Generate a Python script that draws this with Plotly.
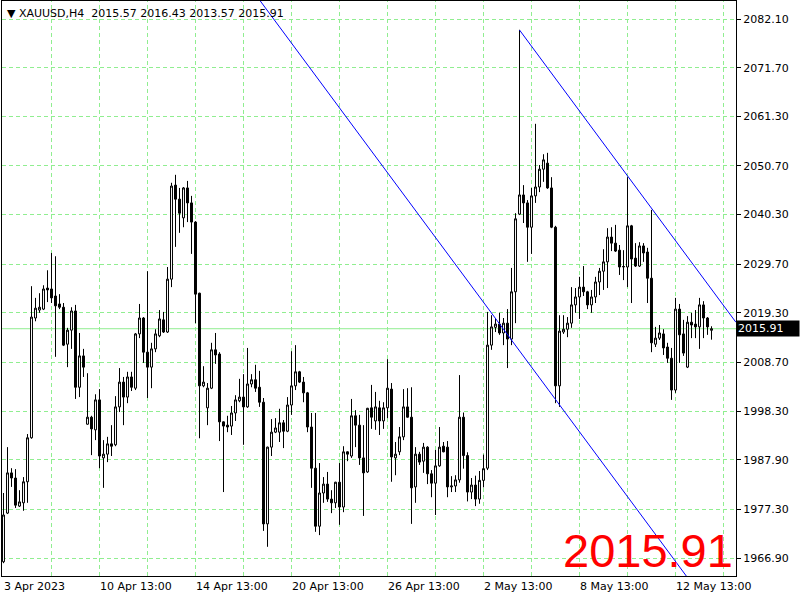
import plotly.graph_objects as go

# XAUUSD H4 candles, bar 0 = first visible bar
opens = [
    1966.1, 1976.5, 1985.1, 1984.0, 1978.0, 1978.7, 1983.2, 1992.6, 2018.2, 2019.9,
    2020.1, 2024.6, 2024.4, 2022.9, 2021.2, 2020.5, 2012.6, 2015.6, 2019.7, 2003.4,
    2010.1, 1995.5, 1997.0, 1994.3, 2000.7, 1988.3, 1989.1, 1991.3, 1991.1, 1999.2,
    2004.5, 2001.3, 2005.6, 2003.2, 2014.8, 2018.2, 2010.9, 2007.7, 2011.6, 2014.4,
    2017.8, 2015.2, 2026.5, 2046.6, 2043.6, 2039.6, 2046.0, 2042.8, 2038.7, 2023.5,
    2003.7, 1999.0, 2003.2, 2011.4, 2010.5, 1996.0, 1995.3, 1995.1, 1997.9, 2000.5,
    2001.3, 1999.2, 2004.1, 2005.0, 2003.4, 2000.2, 1974.2, 1990.6, 1993.8, 1993.8,
    1995.8, 1994.0, 1999.6, 2003.7, 2006.7, 2004.5, 2002.2, 1994.9, 1986.1, 1973.7,
    1980.8, 1982.7, 1979.5, 1978.7, 1983.1, 1977.8, 1989.6, 1988.7, 1997.3, 1995.3,
    1988.3, 1985.3, 1999.0, 1996.2, 1999.0, 1996.2, 1999.0, 2003.0, 1988.3, 1989.6,
    1992.8, 1999.2, 1997.0, 1982.1, 1989.1, 1987.6, 1990.6, 1984.9, 1982.9, 1986.6,
    1990.8, 1990.6, 1982.1, 1982.3, 1983.6, 1997.0, 1988.8, 1981.0, 1982.5, 1979.5,
    1983.5, 1986.1, 2012.4, 2016.2, 2016.9, 2015.0, 2017.1, 2013.7, 2023.8, 2040.4,
    2044.5, 2042.8, 2037.6, 2044.3, 2046.2, 2050.0, 2051.3, 2046.0, 2037.6, 2003.7,
    2015.2, 2015.8, 2017.1, 2021.0, 2022.7, 2024.8, 2023.8, 2021.0, 2022.7, 2025.9,
    2028.2, 2030.2, 2035.5, 2034.2, 2032.7, 2029.1, 2029.1, 2037.9, 2031.0, 2029.3,
    2033.6, 2032.3, 2026.7, 2012.6, 2013.9, 2014.8, 2012.0, 2009.6, 2002.8, 2020.1,
    2014.8, 2007.7, 2017.3, 2016.9, 2016.3, 2021.0, 2018.2, 2015.57,
]
highs = [
    1980.8, 1990.6, 1986.1, 1985.9, 1981.4, 1984.2, 1993.4, 2025.0, 2022.5, 2023.5,
    2025.2, 2028.4, 2032.1, 2031.4, 2023.3, 2021.4, 2016.1, 2020.5, 2021.0, 2015.0,
    2011.6, 2006.4, 1997.3, 2001.9, 2003.0, 1992.1, 1992.8, 1995.3, 2001.5, 2007.5,
    2005.6, 2006.7, 2006.7, 2015.0, 2021.2, 2018.4, 2028.2, 2012.9, 2015.8, 2019.9,
    2019.5, 2029.1, 2047.1, 2048.8, 2046.0, 2046.2, 2047.5, 2044.3, 2038.9, 2023.6,
    2007.9, 2004.3, 2012.9, 2015.0, 2010.9, 1996.1, 1997.3, 1999.4, 2001.7, 2005.2,
    2006.2, 2011.8, 2006.2, 2008.2, 2006.9, 2001.1, 1990.7, 1996.6, 1996.8, 1998.8,
    1996.4, 2001.3, 2011.1, 2012.4, 2006.9, 2005.6, 2002.4, 1997.9, 1997.9, 1987.2,
    1984.2, 1985.3, 1981.4, 1983.2, 1987.2, 1990.8, 1989.7, 2000.9, 1998.5, 1997.5,
    1995.3, 1999.0, 2003.9, 2002.4, 2000.5, 2000.2, 2009.4, 2004.3, 1991.7, 1994.9,
    2003.0, 2003.2, 2003.4, 1990.6, 1989.6, 1991.5, 1990.8, 1985.7, 1990.0, 1994.9,
    1991.7, 1991.9, 1984.4, 1984.6, 2006.0, 1998.0, 1989.5, 1984.0, 1984.5, 1985.5,
    1989.0, 2019.5, 2018.8, 2018.2, 2019.3, 2018.2, 2020.1, 2028.9, 2040.6, 2079.8,
    2046.6, 2043.4, 2046.0, 2059.7, 2050.9, 2053.2, 2053.5, 2048.3, 2037.9, 2018.8,
    2018.8, 2018.4, 2024.8, 2024.6, 2027.0, 2029.3, 2024.0, 2024.2, 2027.0, 2028.9,
    2032.9, 2037.4, 2037.6, 2038.1, 2033.8, 2032.7, 2048.3, 2038.1, 2034.2, 2034.4,
    2034.2, 2033.2, 2041.3, 2016.3, 2016.7, 2015.8, 2012.9, 2011.8, 2022.5, 2021.2,
    2017.8, 2018.6, 2019.3, 2019.9, 2022.5, 2021.8, 2018.4, 2016.43,
]
lows = [
    1965.8, 1976.3, 1982.1, 1977.6, 1977.8, 1977.0, 1978.7, 1992.4, 2017.5, 2019.3,
    2019.9, 2021.6, 2021.4, 2009.9, 2020.1, 2012.2, 2007.7, 2011.6, 2000.9, 2001.3,
    2005.6, 1995.4, 1988.9, 1992.1, 1986.1, 1981.9, 1987.4, 1988.7, 1990.8, 1998.1,
    1995.3, 2000.0, 2002.6, 2002.8, 2013.9, 2008.6, 2001.1, 2003.2, 2010.9, 2014.1,
    2015.0, 2015.0, 2024.8, 2033.4, 2036.4, 2037.6, 2038.7, 2031.9, 2017.1, 1992.5,
    2003.4, 1995.3, 2003.0, 2008.4, 1991.9, 1981.0, 1993.8, 1993.2, 1996.2, 2000.2,
    1991.1, 1999.0, 2003.4, 2002.4, 1999.2, 1972.7, 1969.3, 1988.7, 1993.6, 1991.7,
    1990.4, 1993.8, 1997.5, 2002.8, 2004.3, 2000.2, 1993.8, 1981.9, 1972.5, 1971.8,
    1978.7, 1978.9, 1976.5, 1977.6, 1974.0, 1976.7, 1987.6, 1988.3, 1990.6, 1986.8,
    1975.9, 1985.1, 1994.5, 1994.3, 1993.2, 1994.5, 1996.8, 1983.2, 1984.6, 1988.9,
    1992.1, 1996.9, 1974.2, 1978.7, 1986.8, 1985.1, 1982.7, 1979.9, 1976.1, 1986.4,
    1989.5, 1979.9, 1981.0, 1981.0, 1983.0, 1986.0, 1979.0, 1979.5, 1978.0, 1978.5,
    1982.0, 1985.7, 2011.4, 2015.2, 2014.6, 2012.4, 2007.5, 2012.4, 2017.1, 2040.2,
    2038.5, 2030.2, 2031.9, 2042.8, 2045.1, 2047.3, 2045.8, 2037.4, 2000.0, 1999.2,
    2014.8, 2014.1, 2016.1, 2019.3, 2018.0, 2022.9, 2020.1, 2019.3, 2021.4, 2023.1,
    2024.2, 2024.6, 2032.5, 2032.3, 2027.4, 2026.3, 2024.8, 2021.4, 2029.1, 2029.1,
    2030.2, 2021.4, 2010.9, 2012.0, 2013.5, 2010.3, 2008.6, 2000.7, 2002.2, 2008.6,
    2010.1, 2007.5, 2013.9, 2013.9, 2011.6, 2013.9, 2014.6, 2013.57,
]
closes = [
    1976.1, 1985.1, 1984.0, 1978.2, 1978.9, 1983.2, 1992.6, 2018.4, 2020.3, 2020.5,
    2024.4, 2024.2, 2022.5, 2020.8, 2020.5, 2012.4, 2015.6, 2019.7, 2003.4, 2010.1,
    2007.7, 1997.0, 1994.5, 2000.7, 1988.7, 1989.1, 1991.3, 1990.8, 1999.2, 2004.5,
    2001.3, 2005.6, 2003.4, 2014.8, 2018.2, 2010.9, 2007.7, 2011.6, 2014.8, 2018.0,
    2015.2, 2026.5, 2046.4, 2043.6, 2040.6, 2046.0, 2042.8, 2038.7, 2023.3, 2003.7,
    2004.5, 2003.2, 2011.4, 2010.3, 1996.0, 1995.1, 1994.9, 1997.9, 2000.7, 2001.3,
    1999.2, 2004.1, 2005.0, 2003.2, 2000.2, 1974.2, 1990.6, 1993.8, 1994.7, 1995.8,
    1994.0, 1999.6, 2003.7, 2006.7, 2004.5, 2002.2, 1994.9, 1986.1, 1973.7, 1980.8,
    1982.7, 1979.5, 1978.7, 1983.1, 1977.8, 1989.6, 1989.1, 1997.3, 1995.3, 1988.3,
    1985.1, 1998.9, 1997.0, 1999.2, 1996.2, 1999.0, 2003.2, 1988.5, 1989.1, 1992.8,
    1999.2, 1997.0, 1981.9, 1989.1, 1987.4, 1990.6, 1984.9, 1982.9, 1986.6, 1990.6,
    1989.6, 1982.1, 1982.3, 1983.6, 1997.0, 1988.8, 1981.0, 1982.5, 1979.5, 1983.5,
    1986.0, 2012.4, 2016.3, 2016.9, 2015.0, 2017.1, 2013.7, 2023.8, 2039.4, 2044.5,
    2042.8, 2037.6, 2044.3, 2046.2, 2050.0, 2052.0, 2046.0, 2037.6, 2003.7, 2015.4,
    2015.8, 2017.1, 2021.0, 2022.7, 2024.8, 2023.8, 2021.0, 2022.7, 2025.9, 2028.2,
    2030.2, 2035.5, 2034.2, 2032.5, 2029.1, 2029.2, 2037.9, 2030.8, 2029.3, 2033.6,
    2032.1, 2026.7, 2012.9, 2013.9, 2015.0, 2011.8, 2009.6, 2002.8, 2020.1, 2014.6,
    2010.7, 2017.3, 2016.7, 2016.3, 2021.0, 2018.2, 2016.3, 2015.91,
]

# time axis labels and the bar each one starts on
date_labels = ["3 Apr 2023", "10 Apr 13:00", "14 Apr 13:00", "20 Apr 13:00",
               "26 Apr 13:00", "2 May 13:00", "8 May 13:00", "12 May 13:00"]
date_label_bars = [0, 24, 48, 72, 96, 120, 144, 168]

price_ticks = [2082.10, 2071.70, 2061.30, 2050.70, 2040.30, 2029.70,
               2019.30, 2008.70, 1998.30, 1987.90, 1977.30, 1966.90]

symbol = "XAUUSD,H4"
last_price = 2015.91

# channel trend lines (bar index, price)
upper_line_bars = [129, 183.1]
upper_line_prices = [2079.75, 2017.3]
lower_line_bars = [64.2, 170.7]
lower_line_prices = [2085.95, 1963.06]

bars = list(range(len(opens)))
grid_bars = list(range(12, 184, 12))
grid_green = "#90EE90"
axis_font = dict(family="DejaVu Sans", size=11, color="black")

fig = go.Figure()

fig.add_trace(go.Candlestick(
    x=bars, open=opens, high=highs, low=lows, close=closes,
    increasing=dict(line=dict(color="black", width=1), fillcolor="white"),
    decreasing=dict(line=dict(color="black", width=1), fillcolor="black"),
    whiskerwidth=0, showlegend=False, hoverinfo="skip",
))

for bx, py in [(upper_line_bars, upper_line_prices), (lower_line_bars, lower_line_prices)]:
    fig.add_trace(go.Scatter(x=bx, y=py, mode="lines",
                             line=dict(color="blue", width=1),
                             showlegend=False, hoverinfo="skip"))

# vertical dashed grid every 12 bars
for g in grid_bars:
    fig.add_shape(type="line", xref="x", x0=g, x1=g, yref="paper", y0=0, y1=1,
                  line=dict(color=grid_green, width=1, dash="4px,3px"), layer="below")

# current price line
fig.add_shape(type="line", xref="paper", x0=0, x1=1, yref="y",
              y0=last_price, y1=last_price,
              line=dict(color=grid_green, width=1), layer="below")

fig.update_layout(
    width=800, height=600,
    margin=dict(l=2, r=64, t=1, b=24),
    paper_bgcolor="white", plot_bgcolor="white",
    showlegend=False,
)

fig.update_xaxes(
    range=[-0.375, 183.125],
    rangeslider_visible=False,
    showticklabels=False, ticks="", showgrid=False,
    zeroline=False,
    showline=True, mirror=True, linecolor="black", linewidth=1,
)

fig.update_yaxes(
    side="right",
    range=[1963.06, 2085.95],
    tickvals=price_ticks,
    ticktext=["%.2f" % v for v in price_ticks],
    ticks="outside", ticklen=4, tickcolor="black",
    tickfont=axis_font,
    showgrid=True, gridcolor=grid_green, griddash="4px,3px", gridwidth=1,
    zeroline=False,
    showline=True, mirror=True, linecolor="black", linewidth=1,
)

# time labels, left aligned at their bar like MT4
for b, t in zip(date_label_bars, date_labels):
    fig.add_annotation(x=b, xref="x", y=0, yref="paper", text=t,
                       showarrow=False, xanchor="left", yanchor="top",
                       xshift=-2, yshift=-2, font=axis_font)

# header with OHLC of last bar
header = "\u25bc %s  %.2f %.2f %.2f %.2f" % (symbol, opens[-1], highs[-1], lows[-1], closes[-1])
fig.add_annotation(x=0, xref="paper", y=1, yref="paper", text=header,
                   showarrow=False, xanchor="left", yanchor="top",
                   xshift=3, yshift=-4, font=axis_font)

# price tag on the axis
fig.add_annotation(x=1, xref="paper", y=last_price, yref="y",
                   text="%.2f" % last_price, showarrow=False,
                   xanchor="left", yanchor="middle", align="left",
                   bgcolor="black", width=60, borderpad=1,
                   font=dict(family="DejaVu Sans", size=11, color="white"))

# big red price label
fig.add_annotation(x=1, xref="paper", y=0, yref="paper",
                   text="%.2f" % last_price, showarrow=False,
                   xanchor="right", yanchor="bottom", xshift=-1, yshift=-3,
                   font=dict(family="Liberation Sans", size=47, color="red"))

# drop the browser's default body margin so the figure sits at 0,0
fig.write_html("out.html", config={"displayModeBar": False},
               post_script="document.body.style.margin='0';")
